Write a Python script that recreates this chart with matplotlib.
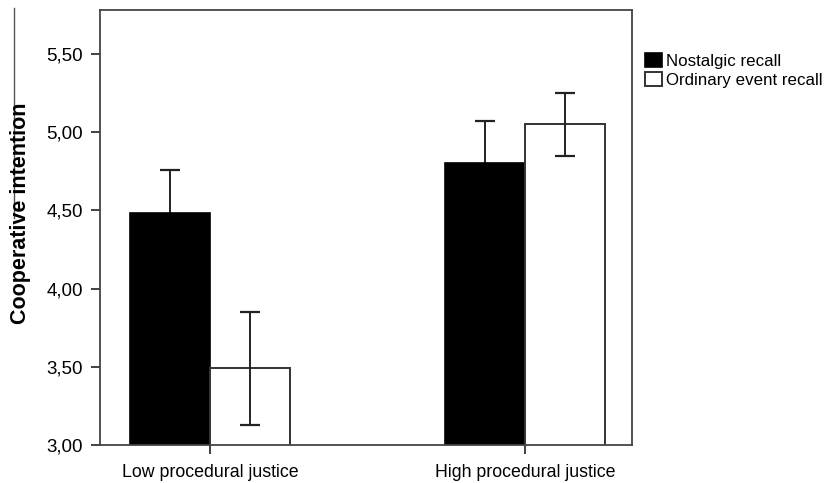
import numpy as np
import matplotlib
matplotlib.use('Agg')
import matplotlib.pyplot as plt
from matplotlib.lines import Line2D
from matplotlib.ticker import FuncFormatter

# 데이터
categories = ['Low procedural justice', 'High procedural justice']
series_names = ['Nostalgic recall', 'Ordinary event recall']
nostalgic_mean = [4.48, 4.80]
nostalgic_err = [0.28, 0.27]
ordinary_mean = [3.49, 5.05]
ordinary_err = [0.36, 0.20]

plt.rcParams['font.family'] = ['Liberation Sans', 'DejaVu Sans']

fig = plt.figure(figsize=(8.31, 4.83), dpi=100)
ax = fig.add_axes([100 / 831, 1 - 445 / 483, 532 / 831, 435 / 483])

x = np.arange(len(categories))
w = 0.254

ax.bar(x - w / 2, nostalgic_mean, w, color='black', edgecolor='black',
       linewidth=1.2, label=series_names[0], zorder=2)
ax.bar(x + w / 2, ordinary_mean, w, color='white', edgecolor='#333333',
       linewidth=1.4, label=series_names[1], zorder=2)

# 검은 막대 안쪽 오차선은 막대 뒤로 숨김
ax.errorbar(x - w / 2, nostalgic_mean, yerr=nostalgic_err, fmt='none',
            ecolor='#222222', elinewidth=1.4, capsize=7.2, capthick=1.6, zorder=1)
ax.errorbar(x + w / 2, ordinary_mean, yerr=ordinary_err, fmt='none',
            ecolor='#222222', elinewidth=1.4, capsize=7.2, capthick=1.6, zorder=3)

ax.set_xlim(-0.35, 1.34)
ax.set_ylim(3.0, 5.78)
ax.set_yticks([3.0, 3.5, 4.0, 4.5, 5.0, 5.5])
ax.yaxis.set_major_formatter(FuncFormatter(lambda v, p: f'{v:.2f}'.replace('.', ',')))
ax.set_xticks(x)
ax.set_xticklabels(categories)

ax.tick_params(axis='y', length=6.5, width=1.3, pad=6, labelsize=13.5, color='#333333')
ax.tick_params(axis='x', length=6.5, width=1.3, pad=7, labelsize=12.8, color='#333333')
for s in ax.spines.values():
    s.set_linewidth(1.3)
    s.set_color('#444444')

fig.text(21 / 831, 1 - 213 / 483, 'Cooperative intention', rotation=90,
         ha='center', va='center', fontsize=15.5, fontweight='bold')

leg = fig.legend(loc='upper left', bbox_to_anchor=(645 / 831, 1 - 53 / 483),
                 frameon=False, fontsize=12.2, borderpad=0, borderaxespad=0,
                 handlelength=1.0, handleheight=0.9, handletextpad=0.25,
                 labelspacing=0.2)

# 스캔 잔상 선
fig.add_artist(Line2D([14 / 831, 14 / 831], [1 - 8 / 483, 1 - 218 / 483],
                      color='#555555', linewidth=1.0))

fig.savefig('out.png', dpi=100)
